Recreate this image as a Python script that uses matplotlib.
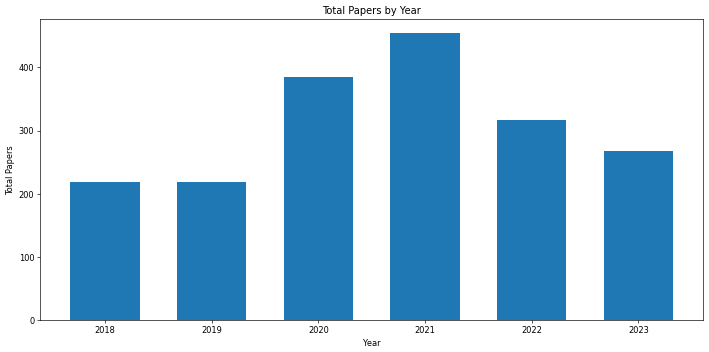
import matplotlib
matplotlib.use("Agg")
import matplotlib.pyplot as plt

# Total papers per year
years = ["2018", "2019", "2020", "2021", "2022", "2023"]
total_papers = [219, 218, 384, 454, 316, 268]

fig, ax = plt.subplots(figsize=(12, 5.96), dpi=59.1)
ax.bar(years, total_papers, width=0.65, color="#1f77b4")
ax.set(title="Total Papers by Year", xlabel="Year", ylabel="Total Papers")
fig.subplots_adjust(left=0.0564, right=0.9915, top=0.946, bottom=0.09)
fig.savefig("out.png", dpi=59.1)
